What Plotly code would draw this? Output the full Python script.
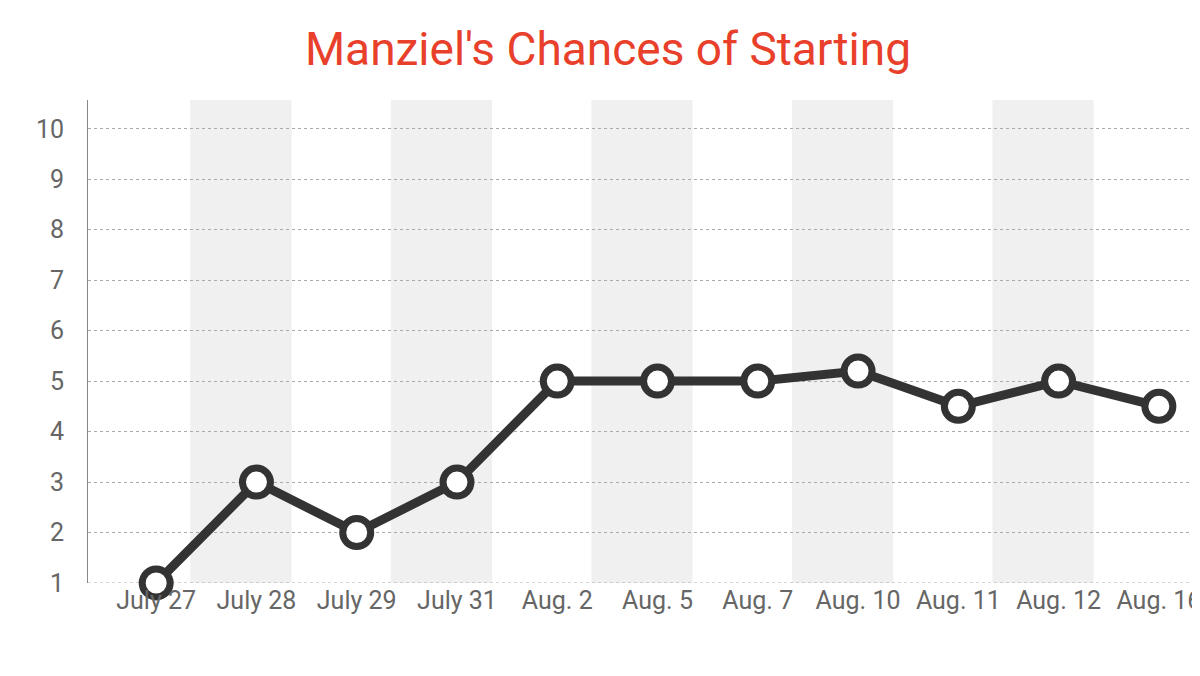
import plotly.graph_objects as go

dates = ["July 27", "July 28", "July 29", "July 31", "Aug. 2", "Aug. 5",
         "Aug. 7", "Aug. 10", "Aug. 11", "Aug. 12", "Aug. 16"]
chances = [1, 3, 2, 3, 5, 5, 5, 5.2, 4.5, 5, 4.5]
y_ticks = list(range(1, 11))

xs = list(range(len(dates)))

fig = go.Figure(go.Scatter(
    x=xs, y=chances, mode="lines+markers",
    line=dict(color="#333333", width=9),
    marker=dict(size=28, color="white", line=dict(color="#333333", width=7)),
    cliponaxis=False,
))

# shaded alternating columns
for i in range(0, len(dates) - 1, 2):
    fig.add_vrect(x0=i + 0.34, x1=i + 1.35, fillcolor="#f0f0f0",
                  line_width=0, layer="below")

fig.update_layout(
    width=1200, height=676,
    paper_bgcolor="white", plot_bgcolor="white",
    margin=dict(l=80, r=0, t=92, b=101, autoexpand=False),
    showlegend=False,
    font=dict(family="Liberation Sans Narrow, Roboto, sans-serif", color="#666666"),
    title=dict(text="Manziel's Chances of Starting", x=0.5, xanchor="center",
               y=0.94, yanchor="middle",
               font=dict(size=46, color="#e8402a")),
)
fig.update_xaxes(
    range=[-0.68, 10.49], tickvals=xs, ticktext=dates, automargin=False,
    showgrid=False, zeroline=False, tickfont=dict(size=25),
    ticklabeloverflow="allow",
)
fig.update_yaxes(
    range=[1, 10.57], tickvals=y_ticks, showgrid=True, automargin=False,
    gridcolor="#aaaaaa", griddash="dot", gridwidth=1,
    showline=True, linecolor="#888888", linewidth=1,
    zeroline=False, ticks="", ticklabelstandoff=18,
    tickfont=dict(size=25),
)
fig.add_hline(y=1, line=dict(color="#aaaaaa", dash="dot", width=1), layer="below")

fig.write_html("out.html")
